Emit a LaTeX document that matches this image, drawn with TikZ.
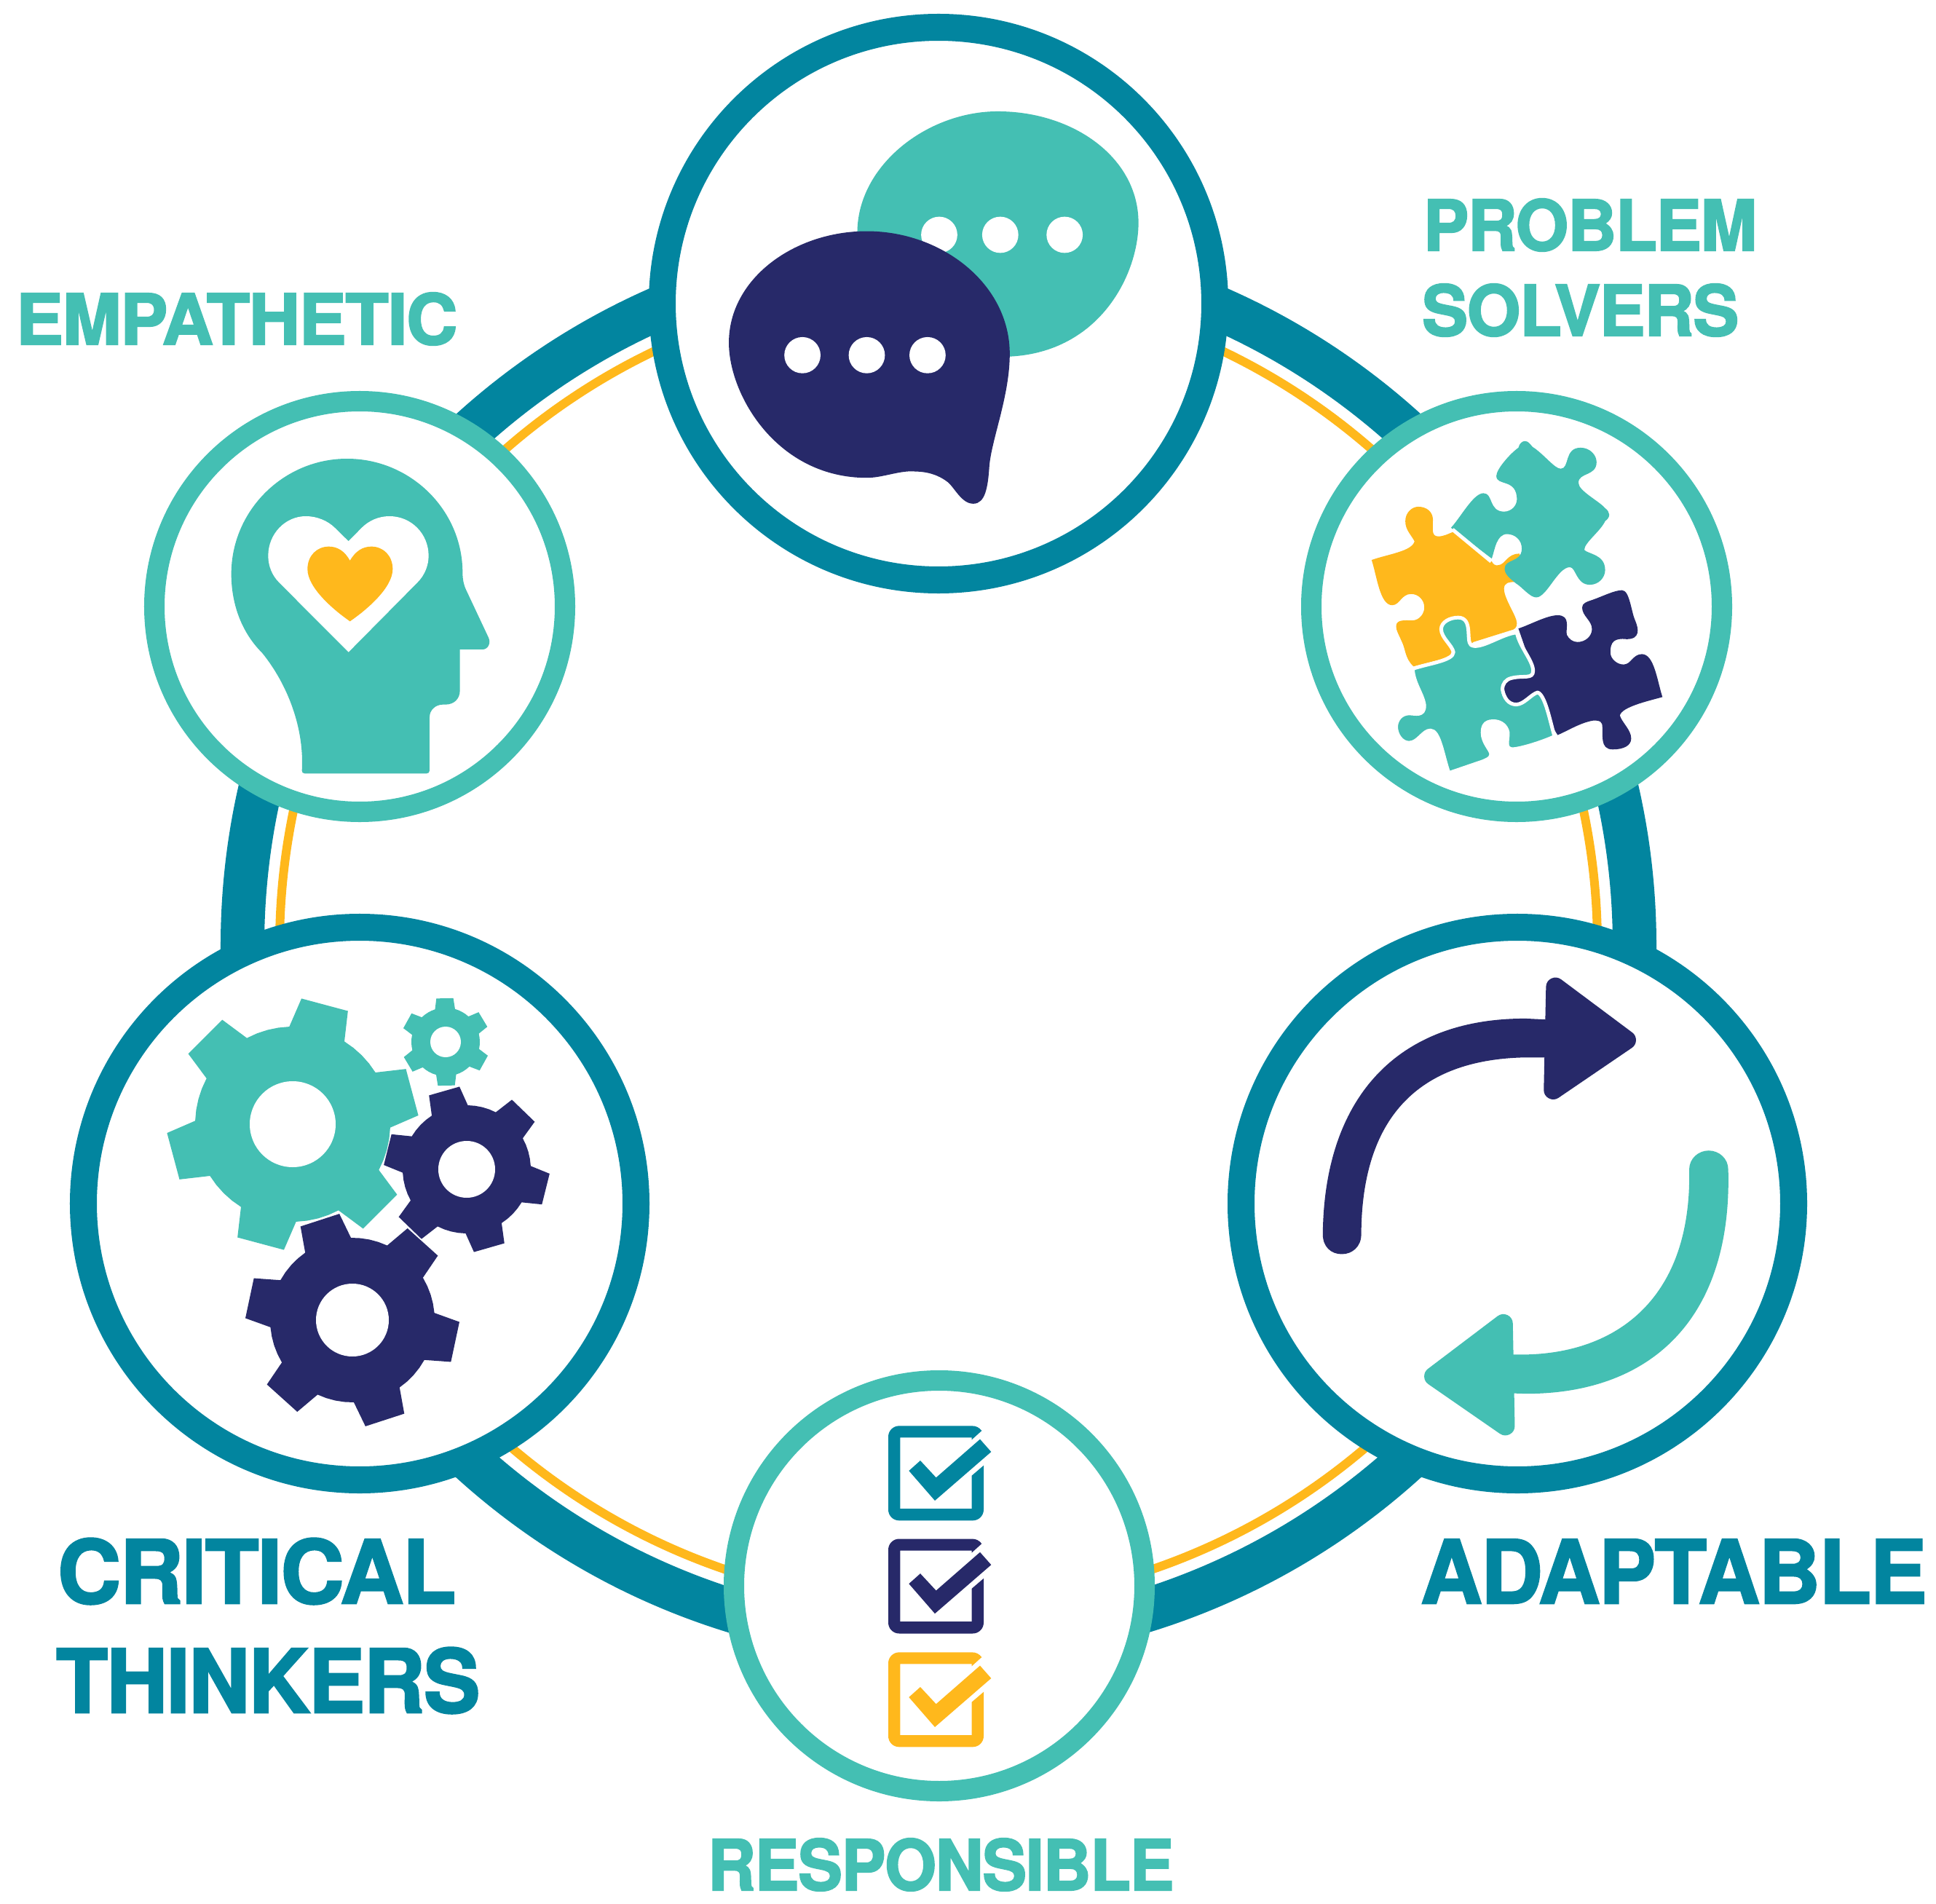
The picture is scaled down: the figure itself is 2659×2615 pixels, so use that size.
\documentclass[tikz,border=0pt]{standalone}
\usepackage{fontspec}
\usepackage{graphicx}
\newfontfamily\lab[FakeBold=2.2,LetterSpace=-1.5]{TeX Gyre Heros Bold}
\definecolor{deepteal}{HTML}{02859F}
\definecolor{mint}{HTML}{44BFB3}
\definecolor{navy}{HTML}{272969}
\definecolor{amber}{HTML}{FFB81C}
\tikzset{
  bigring/.style={draw=deepteal,line width=.37cm,fill=white},
  smallring/.style={draw=mint,line width=.28cm,fill=white},
  heading/.style={anchor=base west,inner sep=0pt,outer sep=0pt},
  roundfill/.style={line join=round,line width=.26cm},
}
% name, x, baseline y, width (px), font size (pt), colour, text
\newcommand\lbl[7]{\node[heading,text=#6] (#1) at (#2,#3)
  {\resizebox{0.28453\dimexpr#4pt\relax}{\height}{\lab\fontsize{#5}{#5}\selectfont #7}};}
% root radius, tip radius, rotation
\newcommand\gearbody[3]{%
  (#3-17:#1)
  \foreach \k in {0,...,5}{
    -- ({#3+60*\k-11}:#2) -- ({#3+60*\k+11}:#2) -- ({#3+60*\k+17}:#1)
    -- ({#3+60*\k+23.5}:#1) -- ({#3+60*\k+30}:#1) -- ({#3+60*\k+36.5}:#1) -- ({#3+60*\k+43}:#1)
  } -- cycle}
\newcommand\tickbox[2]{%
  \begin{scope}[shift={(0,#2)}]
  \fill[#1] (505,135) .. controls (495,122) and (482,115) .. (465,115) -- (165,115)
    .. controls (140,115) and (120,135) .. (120,160) -- (120,460)
    .. controls (120,485) and (140,505) .. (165,505) -- (468,505)
    .. controls (493,505) and (513,485) .. (513,460) -- (513,278) -- (464,320) -- (464,456)
    -- (169,456) -- (169,163) -- (464,163) -- (464,172) -- cycle;
  \fill[#1] (205,300) -- (252,258) -- (317,328) -- (498,170) -- (544,222) -- (312,423) -- cycle;
  \end{scope}}
\begin{document}
\begin{tikzpicture}[x=0.01cm,y=-0.01cm]
\path[use as bounding box,fill=white] (0,0) rectangle (2659,2615);

% outer bands
\draw[amber,line width=.12cm] (1289,1299) circle (905);
\draw[deepteal,line width=.6cm] (1289,1299) circle (956);

% ring circles
\draw[bigring] (1289,417) circle (379.5);
\draw[bigring] (494,1653) circle (379.5);
\draw[bigring] (2084,1653) circle (379.5);
\draw[smallring] (494,833) circle (282);
\draw[smallring] (2083,833) circle (282);
\draw[smallring] (1290,2178) circle (282);

% speech bubbles
\begin{scope}[shift={(980,130)},scale=.3827]
\fill[mint] (516,490) .. controls (520,250) and (770,60) .. (1020,60)
  .. controls (1290,60) and (1525,225) .. (1525,460)
  .. controls (1525,640) and (1390,925) .. (1060,940) -- (800,800) -- cycle;
\fill[white] (810,503) circle (65) (1029,503) circle (65) (1260,503) circle (65);
\fill[navy] (55,890) .. controls (55,660) and (290,490) .. (550,490)
  .. controls (820,490) and (1063,680) .. (1063,930)
  .. controls (1063,1080) and (1000,1230) .. (990,1330)
  .. controls (985,1410) and (975,1468) .. (932,1468)
  .. controls (890,1468) and (865,1410) .. (840,1390)
  .. controls (790,1352) and (740,1352) .. (700,1352)
  .. controls (650,1355) and (600,1375) .. (550,1375)
  .. controls (230,1375) and (55,1080) .. (55,890) -- cycle;
\fill[white] (319,935) circle (65) (550,935) circle (65) (768,935) circle (65);
\end{scope}

% head
\begin{scope}[shift={(280,600)},scale=1/3]
\fill[mint] (404,1375) .. controls (415,1180) and (330,1000) .. (240,890)
  .. controls (150,800) and (113,680) .. (113,565)
  .. controls (113,304) and (328,90) .. (590,90)
  .. controls (850,90) and (1066,300) .. (1066,560)
  .. controls (1066,590) and (1072,615) .. (1085,640) -- (1172,825)
  .. controls (1185,850) and (1170,876) .. (1148,876) -- (1055,876) -- (1055,1045)
  .. controls (1055,1080) and (1030,1103) .. (995,1103) -- (985,1103)
  .. controls (955,1103) and (930,1125) .. (930,1155) -- (930,1375)
  .. controls (930,1382) and (925,1387) .. (918,1387) -- (416,1387)
  .. controls (408,1387) and (403,1382) .. (404,1375) -- cycle;
\fill[white] (596,430) -- (540,375) .. controls (510,345) and (465,327) .. (420,327)
  .. controls (335,327) and (265,400) .. (265,490)
  .. controls (265,530) and (280,570) .. (310,600) -- (596,887) -- (880,600)
  .. controls (910,570) and (926,530) .. (926,490)
  .. controls (926,400) and (855,327) .. (765,327)
  .. controls (720,327) and (680,345) .. (650,375) -- cycle;
\fill[amber] (602,510) .. controls (580,470) and (550,452) .. (515,452)
  .. controls (465,452) and (427,490) .. (427,545)
  .. controls (427,620) and (530,710) .. (602,760)
  .. controls (675,710) and (778,620) .. (778,545)
  .. controls (778,490) and (740,452) .. (690,452)
  .. controls (655,452) and (625,470) .. (602,510) -- cycle;
\end{scope}

% puzzle
\begin{scope}[shift={(1750,520)},xscale=.4209,yscale=.3954]
\fill[amber] (318,630) .. controls (370,610) and (450,600) .. (458,565)
  .. controls (445,540) and (428,525) .. (428,495)
  .. controls (428,465) and (450,445) .. (470,445)
  .. controls (500,445) and (518,465) .. (518,490)
  .. controls (518,520) and (512,548) .. (535,548)
  .. controls (555,548) and (570,538) .. (585,532)
  -- (710,635)
  .. controls (715,645) and (720,650) .. (732,648)
  .. controls (755,645) and (760,608) .. (800,608)
  -- (830,680) -- (790,707)
  .. controls (765,705) and (750,710) .. (750,730)
  .. controls (750,765) and (792,825) .. (792,850)
  .. controls (792,865) and (785,872) .. (770,875)
  -- (650,915) -- (600,960) -- (455,1000)
  .. controls (425,970) and (430,940) .. (415,910)
  .. controls (405,885) and (398,875) .. (398,860)
  .. controls (398,835) and (430,840) .. (450,840)
  .. controls (475,840) and (490,815) .. (490,795)
  .. controls (490,768) and (470,748) .. (447,748)
  .. controls (415,748) and (410,787) .. (385,787)
  .. controls (345,787) and (335,685) .. (318,630) -- cycle;
\fill[mint] (577,518) .. controls (610,480) and (650,398) .. (683,398)
  .. controls (715,398) and (700,462) .. (750,462)
  .. controls (775,462) and (792,440) .. (792,420)
  .. controls (792,345) and (725,375) .. (725,338)
  .. controls (725,315) and (770,260) .. (797,240)
  .. controls (800,225) and (810,217) .. (818,217)
  .. controls (830,217) and (835,228) .. (843,237)
  .. controls (880,262) and (915,313) .. (935,313)
  .. controls (965,313) and (945,240) .. (1000,240)
  .. controls (1030,240) and (1052,265) .. (1052,290)
  .. controls (1052,340) and (993,325) .. (993,362)
  .. controls (993,390) and (1060,425) .. (1080,450)
  .. controls (1095,462) and (1100,480) .. (1080,495)
  .. controls (1065,530) and (1012,570) .. (1012,595)
  .. controls (1025,610) and (1080,610) .. (1080,665)
  .. controls (1080,690) and (1060,716) .. (1030,716)
  .. controls (985,716) and (985,655) .. (965,655)
  .. controls (925,655) and (890,760) .. (855,760)
  .. controls (835,760) and (810,725) .. (790,712)
  .. controls (770,695) and (752,680) .. (752,660)
  .. controls (752,625) and (808,640) .. (808,590)
  .. controls (808,560) and (785,540) .. (760,540)
  .. controls (725,540) and (720,595) .. (710,625) -- cycle;
\draw[white,line width=.05cm] (582,524) -- (708,635);
\fill[navy] (797,868) .. controls (835,855) and (890,822) .. (925,822)
  .. controls (970,822) and (950,870) .. (955,890)
  .. controls (962,905) and (975,915) .. (990,915)
  .. controls (1015,915) and (1037,895) .. (1037,870)
  .. controls (1037,840) and (1005,825) .. (1005,795)
  .. controls (1005,780) and (1020,775) .. (1040,768)
  .. controls (1070,757) and (1110,735) .. (1135,735)
  .. controls (1160,735) and (1165,810) .. (1178,840)
  .. controls (1190,870) and (1195,905) .. (1150,905)
  .. controls (1110,900) and (1097,915) .. (1097,950)
  .. controls (1097,975) and (1120,993) .. (1140,993)
  .. controls (1165,993) and (1170,957) .. (1200,957)
  .. controls (1240,957) and (1250,1050) .. (1267,1106)
  .. controls (1220,1120) and (1135,1140) .. (1128,1170)
  .. controls (1135,1195) and (1165,1220) .. (1165,1250)
  .. controls (1165,1275) and (1140,1288) .. (1105,1288)
  .. controls (1060,1288) and (1075,1235) .. (1070,1200)
  .. controls (1065,1185) and (1050,1188) .. (1040,1188)
  .. controls (1000,1195) and (960,1222) .. (925,1238)
  -- (880,1160) -- (800,1150) -- (735,1100) -- (735,1030) -- (840,1000) -- cycle;
\filldraw[fill=mint,draw=white,line width=.05cm,line join=round] (452,1008)
  .. controls (500,990) and (585,980) .. (585,950)
  .. controls (580,925) and (545,900) .. (545,870)
  .. controls (545,845) and (575,830) .. (600,830)
  .. controls (650,830) and (625,910) .. (642,925)
  .. controls (670,945) and (745,885) .. (792,882)
  .. controls (800,930) and (845,980) .. (845,1015)
  .. controls (845,1045) and (815,1030) .. (775,1040)
  .. controls (755,1045) and (745,1060) .. (745,1080)
  .. controls (750,1110) and (765,1132) .. (790,1132)
  .. controls (815,1132) and (840,1095) .. (860,1090)
  .. controls (885,1100) and (900,1190) .. (915,1243)
  .. controls (870,1265) and (800,1287) .. (778,1287)
  .. controls (745,1287) and (770,1240) .. (760,1220)
  .. controls (752,1200) and (735,1190) .. (715,1190)
  .. controls (685,1190) and (680,1210) .. (680,1230)
  .. controls (680,1265) and (708,1290) .. (708,1305)
  .. controls (708,1320) and (690,1325) .. (680,1330)
  -- (570,1370)
  .. controls (550,1310) and (540,1222) .. (510,1222)
  .. controls (485,1222) and (470,1265) .. (440,1265)
  .. controls (415,1265) and (398,1235) .. (398,1210)
  .. controls (398,1185) and (415,1163) .. (440,1163)
  .. controls (460,1163) and (490,1175) .. (490,1135)
  .. controls (485,1095) and (455,1060) .. (452,1008) -- cycle;
\end{scope}

% gears
\begin{scope}[shift={(402,1544)}]
\fill[mint] \gearbody{134}{173}{-15};
\fill[white] (0,0) circle (59);
\end{scope}
\begin{scope}[shift={(612,1431)}]
\fill[mint] \gearbody{47}{61}{29};
\fill[white] (0,0) circle (21);
\end{scope}
\begin{scope}[shift={(641,1606)}]
\fill[navy] \gearbody{88}{114}{14};
\fill[white] (0,0) circle (39);
\end{scope}
\begin{scope}[shift={(484,1813)}]
\fill[navy] \gearbody{113}{147}{12};
\fill[white] (0,0) circle (50);
\end{scope}

% arrows
\begin{scope}[shift={(1790,1320)},xscale=.3827,yscale=.4337]
\fill[navy] (70,865) .. controls (75,430) and (340,180) .. (800,182) -- (890,186) -- (890,305) -- (800,305)
  .. controls (430,310) and (210,480) .. (208,865)
  .. controls (208,905) and (175,928) .. (138,928)
  .. controls (100,928) and (70,905) .. (70,865) -- cycle;
\filldraw[navy,roundfill] (905,82) -- (1160,250) -- (897,408) -- cycle;
\fill[mint] (1525,660) .. controls (1540,1130) and (1250,1370) .. (800,1370) -- (730,1368) -- (730,1246) -- (770,1246)
  .. controls (1110,1250) and (1395,1080) .. (1385,660)
  .. controls (1385,625) and (1418,600) .. (1455,600)
  .. controls (1492,600) and (1525,625) .. (1525,660) -- cycle;
\filldraw[mint,roundfill] (718,1148) -- (468,1315) -- (725,1472) -- cycle;
\end{scope}

% check boxes
\begin{scope}[shift={(1180,1920)},scale=1/3]
\tickbox{deepteal}{0}
\tickbox{navy}{465.5}
\tickbox{amber}{933}
\end{scope}

% labels
\lbl{empathetic}{22}{473}{606}{27.3}{mint}{EMPATHETIC}
\lbl{problem}{1955}{344}{458}{27.3}{mint}{PROBLEM}
\lbl{solvers}{1953}{461}{435}{27.3}{mint}{SOLVERS}
\lbl{critical}{79}{2202}{547}{34.3}{deepteal}{CRITICAL}
\lbl{thinkers}{77}{2352}{582}{34.3}{deepteal}{THINKERS}
\lbl{adaptable}{1951}{2202}{695}{34.3}{deepteal}{ADAPTABLE}
\lbl{responsible}{972}{2596}{640}{27.3}{mint}{RESPONSIBLE}
\end{tikzpicture}
\end{document}
